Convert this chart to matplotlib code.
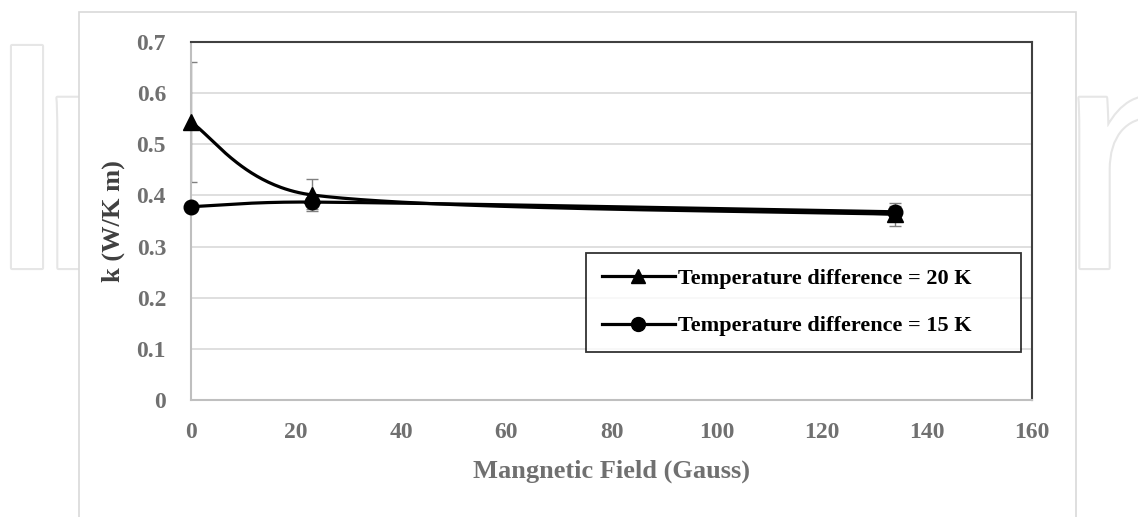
import matplotlib.pyplot as plt
import matplotlib.patheffects as pe
import numpy as np
from matplotlib.patches import Rectangle

plt.rcParams['font.family'] = ['Liberation Serif', 'DejaVu Serif']
plt.rcParams['font.weight'] = 'bold'

# data
field = [0, 23, 134]
k_20 = [0.543, 0.401, 0.363]
k_15 = [0.378, 0.387, 0.368]
err_20 = [0.117, 0.031, 0.022]
err_15 = [0.0, 0.013, 0.012]
labels = ["Temperature difference = 20 K", "Temperature difference = 15 K"]


def smooth(ax, x, y, n=80):
    # Excel-like smoothed line: Bezier segments built in screen space,
    # control arms shortened next to short segments
    pts = ax.transData.transform(np.column_stack([x, y]))
    p = np.vstack([pts[0], pts, pts[-1]])
    t = np.linspace(0, 1, n)[:, None]
    out = []
    for i in range(1, len(p) - 2):
        a, b = p[i], p[i + 1]
        dab = np.hypot(*(b - a))
        d_prev = np.hypot(*(a - p[i - 1]))
        d_next = np.hypot(*(p[i + 2] - b))
        f1 = 1 / 6 if d_prev == 0 else min(1 / 6, 0.5 * dab / (d_prev + dab))
        f2 = 1 / 6 if d_next == 0 else min(1 / 6, 0.5 * dab / (dab + d_next))
        c1 = a + (b - p[i - 1]) * f1
        c2 = b - (p[i + 2] - a) * f2
        out.append((1 - t)**3 * a + 3 * (1 - t)**2 * t * c1
                   + 3 * (1 - t) * t**2 * c2 + t**3 * b)
    curve = ax.transData.inverted().transform(np.vstack(out))
    return curve[:, 0], curve[:, 1]


fig = plt.figure(figsize=(11.38, 5.17), dpi=100)

# faint watermark behind the chart panel
for txt, xpix in (("I", -18), ("n", 36), ("n", 1058)):
    wm = fig.text(xpix / 1138, 1 - 268 / 517, txt, ha='left', va='baseline',
                  fontsize=232, family='Liberation Sans', weight='normal',
                  color='white', zorder=0)
    wm.set_path_effects([pe.Stroke(linewidth=3, foreground='#e6e6e6'), pe.Normal()])

fig.patches.append(Rectangle((79 / 1138, -0.1), (1076 - 79) / 1138, 1 - 12 / 517 + 0.1,
                             transform=fig.transFigure, facecolor='white',
                             edgecolor='#d9d9d9', linewidth=1.2, zorder=1))

ax = fig.add_axes([191 / 1138, 1 - 400 / 517, (1032 - 191) / 1138, 358 / 517])
ax.set_zorder(2)
ax.patch.set_alpha(0)
ax.set_xlim(0, 160)
ax.set_ylim(0, 0.7)

ax.errorbar(field, k_20, yerr=err_20, fmt='none', ecolor='#808080',
            elinewidth=1, capsize=4, zorder=2)
ax.errorbar(field, k_15, yerr=err_15, fmt='none', ecolor='#808080',
            elinewidth=1, capsize=4, zorder=2)

sx, sy = smooth(ax, field, k_20)
ax.plot(sx, sy, color='black', lw=2.3, zorder=3)
ax.plot(field, k_20, ls='none', marker='^', ms=11, color='black', zorder=4, clip_on=False)
sx, sy = smooth(ax, field, k_15)
ax.plot(sx, sy, color='black', lw=2.3, zorder=3)
ax.plot(field, k_15, ls='none', marker='o', ms=10.5, color='black', zorder=4, clip_on=False)

ax.plot([], [], color='black', lw=2.3, marker='^', ms=10, label=labels[0])
ax.plot([], [], color='black', lw=2.3, marker='o', ms=10, label=labels[1])

ax.set_xticks(range(0, 161, 20))
ax.set_yticks(np.arange(0, 0.71, 0.1))
ax.set_yticklabels(['0'] + ['%.1f' % v for v in np.arange(0.1, 0.71, 0.1)])
ax.grid(axis='y', color='#d9d9d9', lw=1.2)
ax.set_axisbelow(True)
ax.tick_params(length=0, labelsize=17, labelcolor='#707070')
ax.tick_params(axis='y', pad=18)
ax.tick_params(axis='x', pad=16)
for lab in ax.get_xticklabels() + ax.get_yticklabels():
    lab.set_fontweight('bold')
for s in ('left', 'bottom'):
    ax.spines[s].set_color('#bfbfbf')
    ax.spines[s].set_linewidth(1.5)
for s in ('top', 'right'):
    ax.spines[s].set_color('#404040')
    ax.spines[s].set_linewidth(1.5)

ax.set_xlabel("Mangnetic Field (Gauss)", fontsize=19, color='#707070',
              fontweight='bold', labelpad=12)
ax.set_ylabel("k (W/K m)", fontsize=19, color='#404040', fontweight='bold',
              labelpad=8)

x0 = (586 - 191) / 841
w = (1021 - 586) / 841
y1 = 1 - (253 - 42) / 358
h = (350 - 253) / 358
leg = ax.legend(loc='upper left', bbox_to_anchor=(x0, y1 - h, w, h), mode='expand',
                frameon=True, fancybox=False, edgecolor='black', fontsize=16,
                handlelength=3.3, handletextpad=0.15, borderpad=0.7,
                labelspacing=1.2, borderaxespad=0)
leg.get_frame().set_linewidth(1.3)
for t in leg.get_texts():
    t.set_fontweight('bold')

fig.savefig('out.png', dpi=100)
